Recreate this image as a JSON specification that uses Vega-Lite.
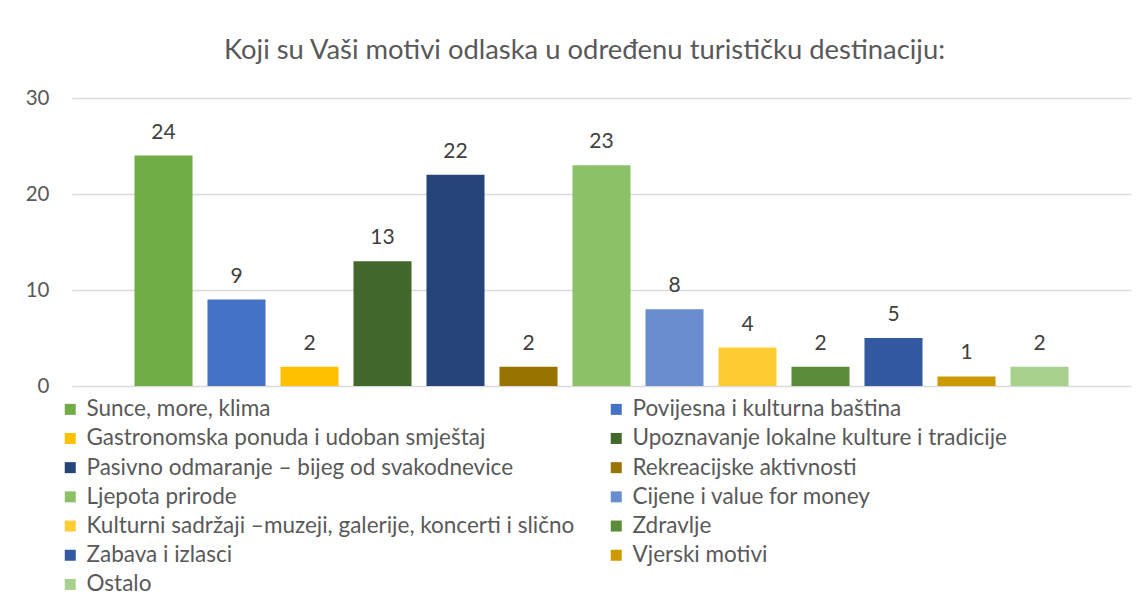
{
  "$schema": "https://vega.github.io/schema/vega-lite/v6.json",
  "width": 1059,
  "height": 288,
  "autosize": {"type": "none"},
  "padding": {"left": 72, "top": 98, "right": 14, "bottom": 220},
  "background": "white",
  "config": {"view": {"stroke": null}, "font": "Lato"},
  "title": {
    "text": "Koji su Vaši motivi odlaska u određenu turističku destinaciju:",
    "font": "Lato",
    "fontSize": 27.4,
    "fontWeight": "normal",
    "color": "#595959",
    "anchor": "middle",
    "frame": "group",
    "baseline": "alphabetic",
    "dx": -17,
    "offset": 2
  },
  "data": {
    "values": [
      {"motiv": "Sunce, more, klima", "n": 24},
      {"motiv": "Povijesna i kulturna baština", "n": 9},
      {"motiv": "Gastronomska ponuda i udoban smještaj", "n": 2},
      {"motiv": "Upoznavanje lokalne kulture i tradicije", "n": 13},
      {"motiv": "Pasivno odmaranje – bijeg od svakodnevice", "n": 22},
      {"motiv": "Rekreacijske aktivnosti", "n": 2},
      {"motiv": "Ljepota prirode", "n": 23},
      {"motiv": "Cijene i value for money", "n": 8},
      {"motiv": "Kulturni sadržaji –muzeji, galerije, koncerti i slično", "n": 4},
      {"motiv": "Zdravlje", "n": 2},
      {"motiv": "Zabava i izlasci", "n": 5},
      {"motiv": "Vjerski motivi", "n": 1},
      {"motiv": "Ostalo", "n": 2}
    ]
  },
  "encoding": {
    "x": {
      "field": "motiv",
      "type": "nominal",
      "sort": null,
      "scale": {"paddingInner": 0.205, "paddingOuter": 0.856},
      "axis": null
    },
    "y": {
      "field": "n",
      "type": "quantitative",
      "scale": {"domain": [0, 30], "nice": false},
      "axis": {
        "values": [0, 10, 20, 30],
        "title": null,
        "domain": false,
        "ticks": false,
        "gridColor": "#d9d9d9",
        "gridWidth": 1.3,
        "labelFont": "Lato",
        "labelFontSize": 20.5,
        "labelColor": "#595959",
        "labelPadding": 23
      }
    }
  },
  "layer": [
    {
      "mark": {"type": "bar"},
      "encoding": {
        "color": {
          "field": "motiv",
          "type": "nominal",
          "sort": null,
          "scale": {
            "domain": [
              "Sunce, more, klima",
              "Povijesna i kulturna baština",
              "Gastronomska ponuda i udoban smještaj",
              "Upoznavanje lokalne kulture i tradicije",
              "Pasivno odmaranje – bijeg od svakodnevice",
              "Rekreacijske aktivnosti",
              "Ljepota prirode",
              "Cijene i value for money",
              "Kulturni sadržaji –muzeji, galerije, koncerti i slično",
              "Zdravlje",
              "Zabava i izlasci",
              "Vjerski motivi",
              "Ostalo"
            ],
            "range": [
              "#70ad47", "#4472c4", "#ffc000", "#43682b", "#264478", "#997300",
              "#8cc168", "#698ed0", "#ffcd33", "#5b8c3a", "#335aa1", "#cc9a00", "#a9d18e"
            ]
          },
          "legend": {
            "orient": "none",
            "legendX": -13,
            "legendY": 300,
            "direction": "horizontal",
            "columns": 2,
            "columnPadding": 30,
            "rowPadding": 6.2,
            "title": null,
            "symbolType": "square",
            "symbolSize": 121,
            "symbolStrokeWidth": 0,
            "labelFont": "Lato",
            "labelFontSize": 22.5,
            "labelColor": "#595959",
            "labelOffset": 5,
            "labelLimit": 700
          }
        }
      }
    },
    {
      "mark": {
        "type": "text",
        "baseline": "alphabetic",
        "dy": -17,
        "font": "Lato",
        "fontSize": 21,
        "color": "#404040"
      },
      "encoding": {"text": {"field": "n", "type": "quantitative"}}
    }
  ]
}
